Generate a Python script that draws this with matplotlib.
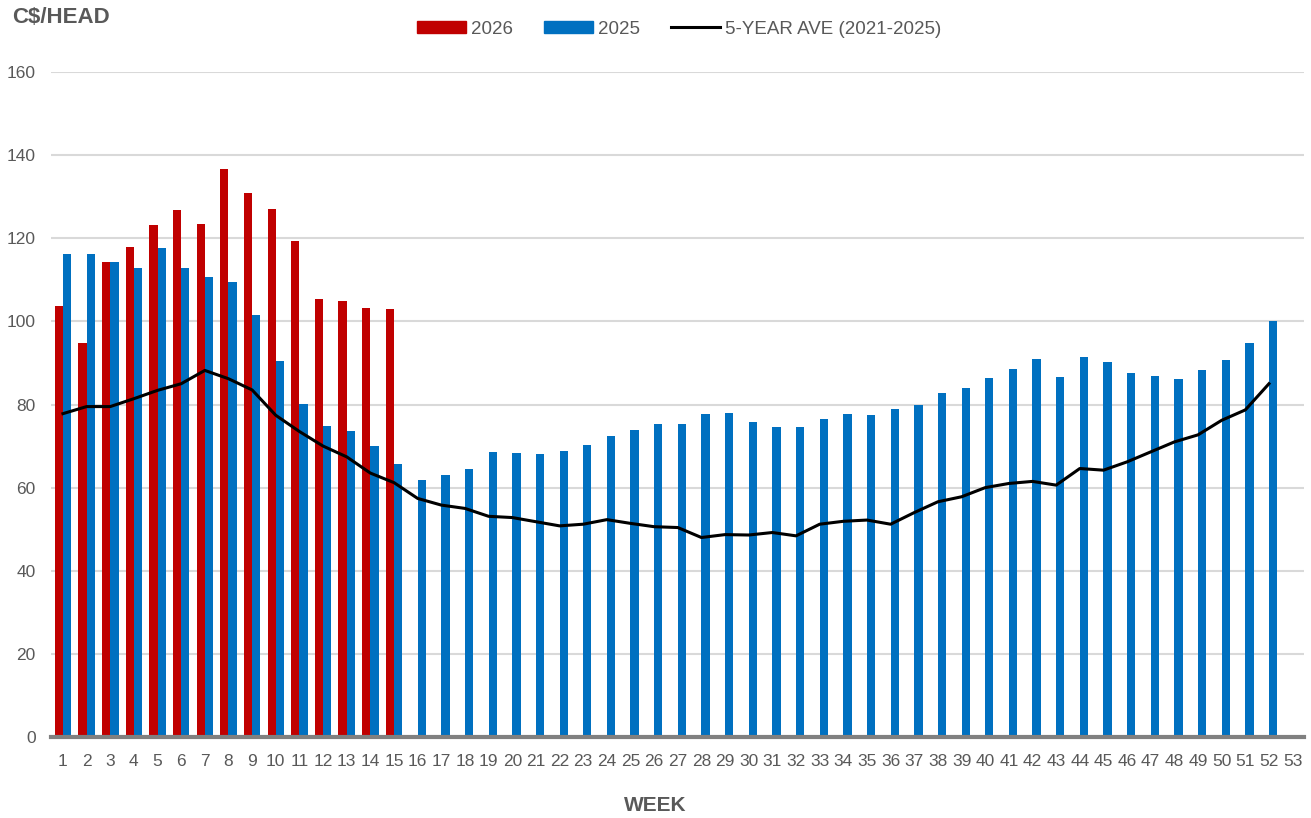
import numpy as np
import matplotlib.pyplot as plt
from matplotlib.lines import Line2D
from matplotlib.patches import Patch

# weeks 1..53
weeks = np.arange(1, 54)

# 2026 (weeks 1-15)
y2026 = [103.6, 94.7, 114.2, 118.0, 123.1, 126.7, 123.4, 136.6, 131.0, 127.0,
         119.4, 105.4, 104.9, 103.1, 103.0]

# 2025 (weeks 1-52)
y2025 = [116.3, 116.2, 114.3, 112.8, 117.6, 112.9, 110.6, 109.4, 101.5, 90.4,
         80.2, 74.8, 73.7, 70.1, 65.8, 61.8, 63.0, 64.5, 68.6, 68.3,
         68.2, 68.9, 70.2, 72.5, 73.8, 75.4, 75.4, 77.6, 78.0, 75.8,
         74.6, 74.5, 76.6, 77.8, 77.4, 79.0, 80.0, 82.8, 84.0, 86.4,
         88.6, 91.0, 86.6, 91.4, 90.2, 87.6, 86.9, 86.1, 88.3, 90.6,
         94.9, 100.0]

# 5-year average 2021-2025 (weeks 1-52)
ave5 = [77.8, 79.5, 79.5, 81.4, 83.4, 85.0, 88.2, 86.2, 83.5, 77.4,
        73.5, 70.0, 67.4, 63.5, 61.2, 57.4, 55.8, 55.0, 53.1, 52.8,
        51.8, 50.8, 51.2, 52.3, 51.4, 50.6, 50.4, 48.0, 48.7, 48.6,
        49.2, 48.4, 51.2, 51.9, 52.2, 51.2, 54.0, 56.6, 57.8, 60.0,
        61.0, 61.5, 60.6, 64.6, 64.2, 66.2, 68.6, 71.0, 72.7, 76.2,
        78.7, 85.0]

red = '#C00000'
blue = '#0070C0'
grey = '#595959'
fam = ['Liberation Sans', 'DejaVu Sans']

fig = plt.figure(figsize=(13.11, 8.18), dpi=100)
ax = fig.add_axes([0.039, 0.099, 0.956, 0.813])

w = 0.35
x26 = np.arange(1, len(y2026) + 1)
x25 = np.arange(1, len(y2025) + 1)
ax.bar(x26 - w/2, y2026, width=w, color=red, zorder=2)
ax.bar(x25 + w/2, y2025, width=w, color=blue, zorder=2)
ax.plot(x25, ave5, color='black', lw=2.2, zorder=3)

ax.set_xlim(0.5, 53.5)
ax.set_ylim(0, 160)
ax.set_yticks(np.arange(0, 161, 20))
ax.set_xticks(weeks)
ax.yaxis.grid(True, color='#d9d9d9', lw=1.5, zorder=0)
ax.set_axisbelow(True)
for s in ['top', 'right', 'left']:
    ax.spines[s].set_visible(False)
ax.spines['bottom'].set_color('#808080')
ax.spines['bottom'].set_linewidth(3)
ax.spines['bottom'].set_zorder(4)
ax.tick_params(axis='both', length=0, labelsize=12.5, labelcolor=grey)
ax.tick_params(axis='x', pad=12)
ax.tick_params(axis='y', pad=11)
for lab in ax.get_xticklabels() + ax.get_yticklabels():
    lab.set_family(fam)

fig.text(0.009, 0.978, 'C$/HEAD', fontsize=16, fontweight='bold', color=grey,
         family=fam, va='center', ha='left')
fig.text(0.5, 0.0147, 'WEEK', fontsize=15, fontweight='bold', color=grey,
         family=fam, va='center', ha='center')

handles = [Patch(color=red), Patch(color=blue),
           Line2D([], [], color='black', lw=2.2)]
labels = ['2026', '2025', '5-YEAR AVE (2021-2025)']
fig.legend(handles, labels, loc='center', bbox_to_anchor=(0.518, 0.9645),
           ncol=3, frameon=False, handlelength=2.6, handleheight=0.68,
           handletextpad=0.27, columnspacing=1.65,
           prop={'family': fam, 'size': 13.5}, labelcolor=grey)

fig.savefig('out.png', dpi=100)
